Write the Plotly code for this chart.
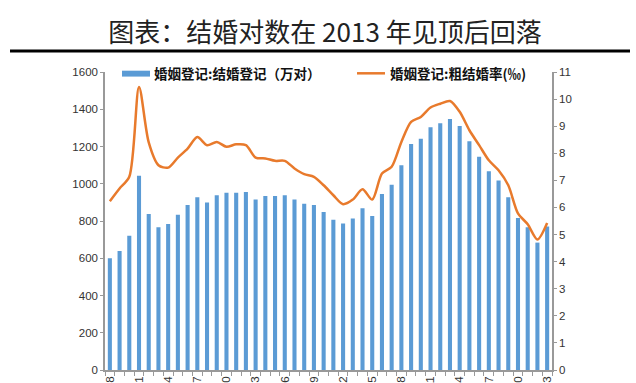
import plotly.graph_objects as go

years = list(range(1978, 2024))
marriages = [600, 639, 721, 1043, 838, 766, 784, 834, 886, 927, 900, 938, 952, 952, 956,
             916, 934, 934, 938, 916, 893, 886, 848, 807, 787, 814, 868, 827, 945, 995,
             1099, 1213, 1242, 1303, 1325, 1348, 1310, 1228, 1145, 1067, 1018, 927, 816,
             766, 684, 770]
rate = [6.23, 6.70, 7.13, 10.45, 8.40, 7.56, 7.47, 7.84, 8.17, 8.60, 8.30, 8.42, 8.24,
        8.33, 8.30, 7.84, 7.81, 7.72, 7.72, 7.44, 7.23, 7.13, 6.82, 6.45, 6.12, 6.29,
        6.67, 6.29, 7.25, 7.50, 8.42, 9.16, 9.34, 9.69, 9.83, 9.93, 9.53, 8.85, 8.30,
        7.74, 7.37, 6.82, 5.78, 5.38, 4.82, 5.43]
tick_text = [str(y) if (y - 1978) % 3 == 0 else "" for y in years]
x_cat = [str(y) for y in years]

title_text = "图表：结婚对数在 2013 年见顶后回落"
bar_name = "婚姻登记:结婚登记（万对）"
line_name = "婚姻登记:粗结婚率(‰)"

BAR_COLOR = "#5b9bd5"
LINE_COLOR = "#e87a2c"

fig = go.Figure()
fig.add_trace(go.Bar(x=x_cat, y=marriages, name=bar_name, showlegend=False,
                     marker=dict(color=BAR_COLOR, line=dict(width=0))))
fig.add_trace(go.Scatter(x=x_cat, y=rate, name=line_name, yaxis="y2", mode="lines",
                         showlegend=False,
                         line=dict(color=LINE_COLOR, width=2.5, shape="spline", smoothing=0.8)))

axis_font = dict(family="Liberation Sans, Arial, sans-serif", size=11.5, color="#333")
legend_font = dict(family="Noto Sans CJK SC", size=13.5, color="#111")

fig.update_layout(
    width=636, height=383,
    margin=dict(l=105, r=84, t=72, b=13, autoexpand=False),
    paper_bgcolor="white", plot_bgcolor="white",
    bargap=0.58,
    title=dict(text=title_text, xref="container", yref="container", x=0.511, y=0.914,
               xanchor="center", yanchor="middle",
               font=dict(family="Noto Sans CJK SC", size=26, color="#222")),
    xaxis=dict(type="category", tickmode="array", tickvals=x_cat, ticktext=tick_text,
               tickangle=-90, ticks="outside", ticklen=4, tickson="boundaries",
               tickcolor="#999", showline=True, linecolor="#999", linewidth=1.5,
               showgrid=False, automargin=False, tickfont=axis_font,
               range=[-0.5, 45.5]),
    yaxis=dict(range=[0, 1600], dtick=200, showline=True, linecolor="#999", linewidth=1.5,
               ticks="outside", ticklen=3, tickcolor="#999", showgrid=False,
               zeroline=False, tickfont=axis_font, automargin=False),
    yaxis2=dict(range=[0, 11], dtick=1, overlaying="y", side="right", showline=True,
                linecolor="#999", linewidth=1.5, ticks="outside", ticklen=3,
                tickcolor="#999", showgrid=False, zeroline=False, tickfont=axis_font,
                automargin=False),
    shapes=[
        dict(type="line", xref="paper", yref="paper", x0=-0.2125, x1=1.1745,
             y0=1.0705, y1=1.0705, line=dict(color="black", width=3)),
        # custom legend keys
        dict(type="rect", xref="paper", yref="paper", x0=0.038, x1=0.1007,
             y0=0.9846, y1=1.0044, fillcolor=BAR_COLOR, line=dict(width=0)),
        dict(type="line", xref="paper", yref="paper", x0=0.5638, x1=0.6264,
             y0=0.9956, y1=0.9956, line=dict(color=LINE_COLOR, width=2.5)),
    ],
    annotations=[
        dict(text="<b>" + bar_name + "</b>", xref="paper", yref="paper", x=0.1051,
             y=0.9956, xanchor="left", yanchor="middle", showarrow=False, font=legend_font),
        dict(text="<b>" + line_name + "</b>", xref="paper", yref="paper", x=0.6331,
             y=0.9956, xanchor="left", yanchor="middle", showarrow=False, font=legend_font),
    ],
)

fig.write_html("out.html", config={"displayModeBar": False},
               post_script="document.body.style.margin='0';")
